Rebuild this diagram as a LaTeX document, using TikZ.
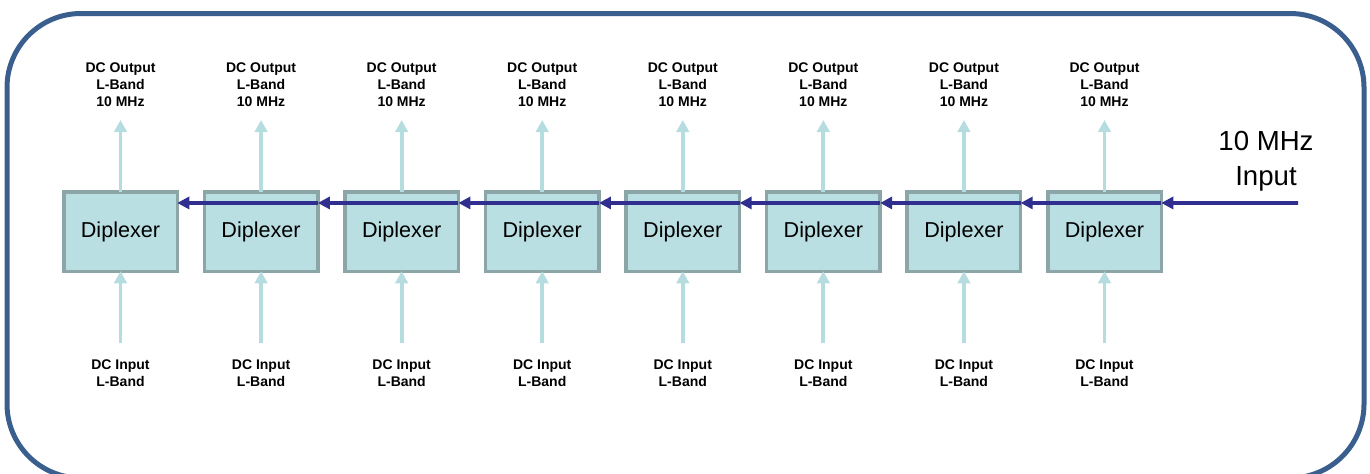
\documentclass[tikz,border=0pt]{standalone}
\usepackage{fontspec}
\setmainfont{Liberation Sans}
\usetikzlibrary{arrows.meta,calc}
\definecolor{framec}{HTML}{3A5F8F}
\definecolor{boxfill}{HTML}{B9DFE2}
\definecolor{boxline}{HTML}{8CA5A7}
\definecolor{lightarr}{HTML}{B5DDE0}
\definecolor{sigblue}{HTML}{302F8F}
\begin{document}
\begin{tikzpicture}[x=0.5pt,y=-0.5pt,
  outerframe/.style={draw=framec,line width=2.5pt,rounded corners=37pt},
  dip/.style={draw=boxline,fill=boxfill,line width=1.75pt,minimum width=56.75pt,minimum height=39.75pt,inner sep=0pt,outer sep=0pt,font=\fontsize{10.8}{12}\selectfont},
  lab/.style={align=center,inner sep=0pt,font=\bfseries\fontsize{7}{8.5}\selectfont},
  inlab/.style={align=center,inner sep=0pt,font=\fontsize{13.8}{17.5}\selectfont},
  ltarrow/.style={draw=lightarr,line width=1.9pt,-{Triangle[length=6pt,width=6.2pt]}},
  sig/.style={draw=sigblue,line width=1.8pt,-{Triangle[length=6pt,width=6pt]}}]
\useasboundingbox (0,0) rectangle (1370,473);
\draw[outerframe] (7,13.5) rectangle (1364,478);
\foreach \i in {1,...,8}{
  \pgfmathsetmacro{\xx}{120.5+140.57*(\i-1)}
  \node[dip] (d\i) at (\xx,231.5) {\raisebox{-1.5pt}{Diplexer}};
  \node[lab] (o\i) at (\xx,84.5) {DC Output\\L-Band\\10 MHz};
  \node[lab] (n\i) at (\xx,373) {DC Input\\L-Band};
  \coordinate (ot\i) at (\xx,120);
  \coordinate (ib\i) at (\xx,343);
  \draw[ltarrow] (d\i.north) -- (ot\i);
  \draw[ltarrow] (ib\i) -- (d\i.south);
}
\node[inlab] (inp) at (1266,161) {10 MHz\\Input};
\coordinate (src) at (1298,203);
\draw[sig] (src) -- ([yshift=-5.6pt]d8.north east);
\foreach \i/\j in {8/7,7/6,6/5,5/4,4/3,3/2,2/1}{
  \draw[sig] ([yshift=-5.6pt]d\i.north east) -- ([yshift=-5.6pt]d\j.north east);
}
\end{tikzpicture}
\end{document}
